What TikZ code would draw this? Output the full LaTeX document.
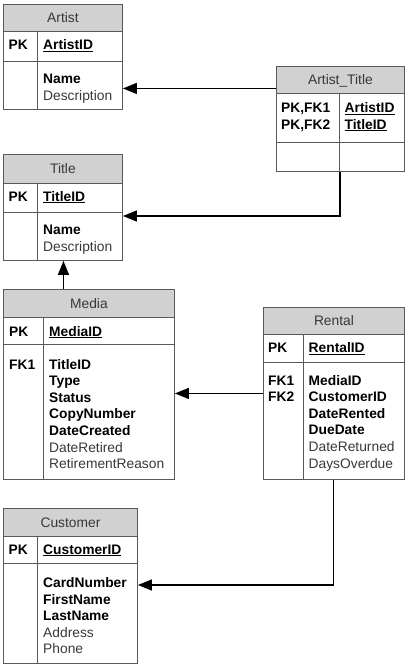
\documentclass[tikz,border=0pt]{standalone}
\usepackage{fontspec}
\setmainfont{Liberation Sans}
\usetikzlibrary{arrows.meta, positioning}
\colorlet{hdrgray}{black!18}
\colorlet{linegray}{black!65}
\colorlet{txtgray}{black!78}

\begin{document}
\begin{tikzpicture}[
    x=1pt, y=-1pt,
    every node/.style={font=\fontsize{13.8}{16.6}\selectfont},
    hdr/.style={draw=linegray, fill=hdrgray, line width=0.9pt, inner sep=0pt, anchor=north west, text=txtgray, text height=9.9pt, text depth=0pt},
    cell/.style={draw=linegray, line width=0.9pt, inner sep=0pt, anchor=north west},
    txt/.style={anchor=base west, inner sep=0pt, align=left},
    fk/.style={-{Triangle[length=14pt,width=11pt]}, line width=1.3pt},
]
\useasboundingbox (0,0) rectangle (408,668);

% Artist (multi-line texts sit on the baseline of their last line)
\node[hdr, minimum width=119, minimum height=27] (arthdr) at (3,4) {Artist};
\node[cell, minimum width=34, minimum height=30] (artpkk) at (3,31) {};
\node[cell, minimum width=85, minimum height=30] (artpkf) at (37,31) {};
\node[cell, minimum width=34, minimum height=48] (artbodyk) at (3,61) {};
\node[cell, minimum width=85, minimum height=48] (artbodyf) at (37,61) {};
\node[txt] (artpk) at (8.5,49.5) {\textbf{PK}};
\node[txt] (artid) at (43,49.5) {\textbf{\underline{ArtistID}}};
\node[txt] (artcols) at (43,100.1) {\textbf{Name}\\\textcolor{txtgray}{Description}};

% Artist_Title
\node[hdr, minimum width=128, minimum height=27] (athdr) at (276,66) {Artist\_Title};
\node[cell, minimum width=63, minimum height=49] (atpkk) at (276,93) {};
\node[cell, minimum width=65, minimum height=49] (atpkf) at (339,93) {};
\node[cell, minimum width=63, minimum height=29] (atbodyk) at (276,142) {};
\node[cell, minimum width=65, minimum height=29] (atbodyf) at (339,142) {};
\node[txt] (atpk) at (281,129.1) {\textbf{PK,FK1}\\\textbf{PK,FK2}};
\node[txt] (atid) at (344.5,129.1) {\textbf{\underline{ArtistID}}\\\textbf{\underline{TitleID}}};

% Title
\node[hdr, minimum width=119, minimum height=29] (tithdr) at (3,154) {Title};
\node[cell, minimum width=34, minimum height=29] (titpkk) at (3,183) {};
\node[cell, minimum width=85, minimum height=29] (titpkf) at (37,183) {};
\node[cell, minimum width=34, minimum height=48] (titbodyk) at (3,212) {};
\node[cell, minimum width=85, minimum height=48] (titbodyf) at (37,212) {};
\node[txt] (titpk) at (8.5,201) {\textbf{PK}};
\node[txt] (titid) at (43,201) {\textbf{\underline{TitleID}}};
\node[txt] (titcols) at (43,251.1) {\textbf{Name}\\\textcolor{txtgray}{Description}};

% Media
\node[hdr, minimum width=171, minimum height=28] (medhdr) at (3,289) {Media};
\node[cell, minimum width=40, minimum height=27] (medpkk) at (3,317) {};
\node[cell, minimum width=131, minimum height=27] (medpkf) at (43,317) {};
\node[cell, minimum width=40, minimum height=135] (medbodyk) at (3,344) {};
\node[cell, minimum width=131, minimum height=135] (medbodyf) at (43,344) {};
\node[txt] (medpk) at (9,336) {\textbf{PK}};
\node[txt] (medid) at (49,336) {\textbf{\underline{MediaID}}};
\node[txt] (medfk) at (9,369) {\textbf{FK1}};
\node[txt] (medcols) at (49,468.6) {\textbf{TitleID}\\\textbf{Type}\\\textbf{Status}\\\textbf{CopyNumber}\\\textbf{DateCreated}\\\textcolor{txtgray}{DateRetired}\\\textcolor{txtgray}{RetirementReason}};

% Rental
\node[hdr, minimum width=141, minimum height=27] (renhdr) at (263,307) {Rental};
\node[cell, minimum width=40, minimum height=28] (renpkk) at (263,334) {};
\node[cell, minimum width=101, minimum height=28] (renpkf) at (303,334) {};
\node[cell, minimum width=40, minimum height=117] (renbodyk) at (263,362) {};
\node[cell, minimum width=101, minimum height=117] (renbodyf) at (303,362) {};
\node[txt] (renpk) at (268,352.5) {\textbf{PK}};
\node[txt] (renid) at (308.5,352.5) {\textbf{\underline{RentalID}}};
\node[txt] (renfk) at (268,401.6) {\textbf{FK1}\\\textbf{FK2}};
\node[txt] (rencols) at (308.5,468) {\textbf{MediaID}\\\textbf{CustomerID}\\\textbf{DateRented}\\\textbf{DueDate}\\\textcolor{txtgray}{DateReturned}\\\textcolor{txtgray}{DaysOverdue}};

% Customer
\node[hdr, minimum width=134, minimum height=28] (cushdr) at (3,508) {Customer};
\node[cell, minimum width=34, minimum height=27] (cuspkk) at (3,536) {};
\node[cell, minimum width=100, minimum height=27] (cuspkf) at (37,536) {};
\node[cell, minimum width=34, minimum height=100] (cusbodyk) at (3,563) {};
\node[cell, minimum width=100, minimum height=100] (cusbodyf) at (37,563) {};
\node[txt] (cuspk) at (8.5,554) {\textbf{PK}};
\node[txt] (cusid) at (43,554) {\textbf{\underline{CustomerID}}};
\node[txt] (cuscols) at (43,653.9) {\textbf{CardNumber}\\\textbf{FirstName}\\\textbf{LastName}\\\textcolor{txtgray}{Address}\\\textcolor{txtgray}{Phone}};

% Relationships
\draw[fk] ([yshift=-8.5pt]athdr.west) -- ([yshift=-8.5pt]athdr.west -| artbodyf.east);
\draw[fk] (atbodyk.south east) |- ([yshift=-4pt]titbodyf.north east);
\draw[fk] ([xshift=-25.5pt]medhdr.north) -- ([xshift=-25.5pt]medhdr.north |- titbodyf.south);
\draw[fk] ([yshift=27.5pt]renbodyk.west) -- ([yshift=27.5pt]renbodyk.west -| medbodyf.east);
\draw[fk] ([xshift=-20.5pt]renbodyf.south) |- ([yshift=-22pt]cusbodyf.north east);

\end{tikzpicture}
\end{document}
